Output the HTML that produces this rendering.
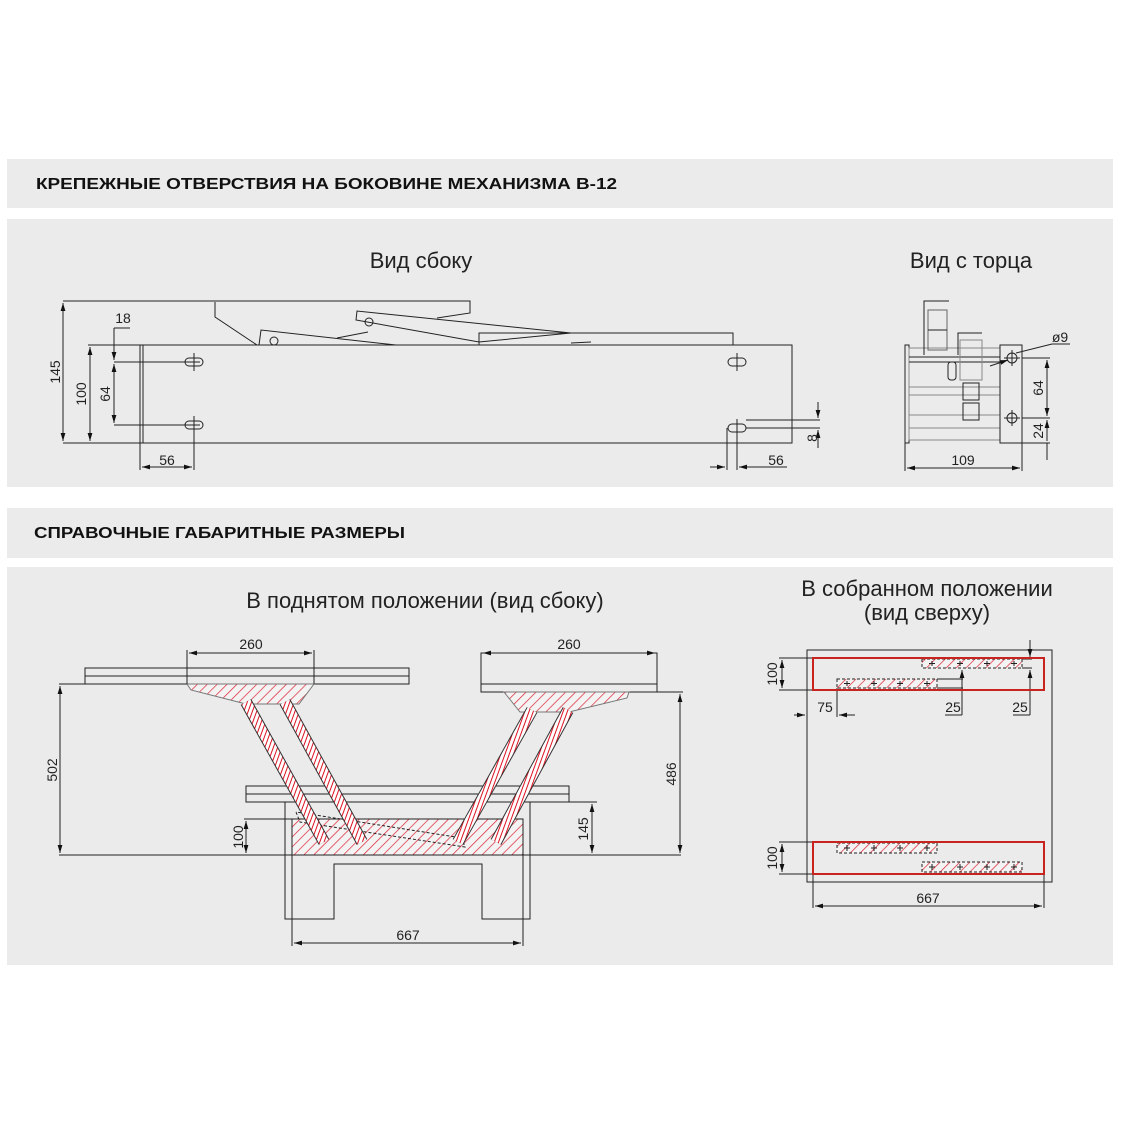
<!DOCTYPE html>
<html><head><meta charset="utf-8"><style>
html,body{margin:0;padding:0;background:#fff;}
svg{display:block}
.h{font-family:"Liberation Sans",sans-serif;font-weight:bold;font-size:16px;fill:#111}
.t{font-family:"Liberation Sans",sans-serif;font-size:22px;fill:#222;text-anchor:middle}
.d{font-family:"Liberation Sans",sans-serif;font-size:14px;fill:#222;text-anchor:middle}
</style></head><body>
<svg width="1123" height="1123" viewBox="0 0 1123 1123" xmlns="http://www.w3.org/2000/svg">
<defs>
<pattern id="hp" patternUnits="userSpaceOnUse" width="7" height="7" patternTransform="rotate(45)">
<rect width="7" height="7" fill="#f3f3f3"/><line x1="0" y1="0" x2="0" y2="7" stroke="#d23" stroke-width="1.4"/>
</pattern>
<pattern id="sp" patternUnits="userSpaceOnUse" width="4" height="4" patternTransform="rotate(20)">
<rect width="4" height="4" fill="#fff"/><line x1="0" y1="0" x2="0" y2="4" stroke="#d12" stroke-width="2"/>
</pattern>
<marker id="a" viewBox="0 0 10 6" refX="10" refY="3" markerWidth="8" markerHeight="5" orient="auto-start-reverse"><path d="M0,0 L10,3 L0,6z" fill="#111"/></marker>
</defs>
<rect width="1123" height="1123" fill="#fff"/>
<rect x="7" y="159" width="1106" height="49" fill="#ebebeb"/>
<rect x="7" y="219" width="1106" height="268" fill="#ebebeb"/>
<rect x="7" y="508" width="1106" height="50" fill="#ebebeb"/>
<rect x="7" y="567" width="1106" height="398" fill="#ebebeb"/>
<text class="h" x="36" y="189" textLength="581" lengthAdjust="spacingAndGlyphs">КРЕПЕЖНЫЕ ОТВЕРСТВИЯ НА БОКОВИНЕ МЕХАНИЗМА В-12</text>
<text class="h" x="34" y="538" textLength="371" lengthAdjust="spacingAndGlyphs">СПРАВОЧНЫЕ ГАБАРИТНЫЕ РАЗМЕРЫ</text>
<text class="t" x="421" y="268">Вид сбоку</text>
<text class="t" x="971" y="268">Вид с торца</text>
<text class="t" x="425" y="608">В поднятом положении (вид сбоку)</text>
<text class="t" x="927" y="596">В собранном положении</text>
<text class="t" x="927" y="620">(вид сверху)</text>

<g fill="none" stroke="#222" stroke-width="1">
<rect x="140" y="345" width="652" height="98"/>
<line x1="143" y1="345" x2="143" y2="443"/>
<polyline points="215,301 470,301 470,313 437,318"/>
<polyline points="215,302 215,317 257,345"/>
<polygon points="357,311 356,320 479,342 571,333"/>
<circle cx="369" cy="322" r="4"/>
<polyline points="259,345 261,330 396,345"/>
<line x1="337" y1="338" x2="368" y2="332"/>
<circle cx="274" cy="341" r="4"/>
<rect x="479" y="333" width="254" height="12"/>
<line x1="571" y1="343" x2="591" y2="342"/>
<line x1="63" y1="301" x2="215" y2="301"/>
<line x1="63" y1="443" x2="140" y2="443"/>
<line x1="63" y1="303" x2="63" y2="441" marker-start="url(#a)" marker-end="url(#a)"/>
<line x1="88" y1="345" x2="140" y2="345"/>
<line x1="90" y1="347" x2="90" y2="441" marker-start="url(#a)" marker-end="url(#a)"/>
<line x1="114" y1="362" x2="200" y2="362"/>
<line x1="114" y1="425" x2="200" y2="425"/>
<line x1="114" y1="364" x2="114" y2="423" marker-start="url(#a)" marker-end="url(#a)"/>
<line x1="114" y1="328" x2="114" y2="360" marker-end="url(#a)"/>
<line x1="114" y1="328" x2="130" y2="328"/>
<rect x="185" y="358" width="18" height="8" rx="4"/><line x1="194" y1="353" x2="194" y2="371"/>
<rect x="185" y="421" width="18" height="8" rx="4"/><line x1="194" y1="416" x2="194" y2="470"/>
<rect x="728" y="358" width="18" height="8" rx="4"/><line x1="737" y1="353" x2="737" y2="371"/>
<rect x="728" y="424" width="18" height="8" rx="4"/><line x1="737" y1="419" x2="737" y2="470"/>
<line x1="727" y1="428" x2="727" y2="470"/>
<line x1="140" y1="443" x2="140" y2="470"/>
<line x1="142" y1="467" x2="192" y2="467" marker-start="url(#a)" marker-end="url(#a)"/>
<line x1="710" y1="467" x2="725" y2="467" marker-end="url(#a)"/>
<line x1="787" y1="467" x2="739" y2="467" marker-end="url(#a)"/>
<line x1="746" y1="420" x2="820" y2="420"/>
<line x1="746" y1="428" x2="820" y2="428"/>
<line x1="818" y1="402" x2="818" y2="418" marker-end="url(#a)"/>
<line x1="818" y1="448" x2="818" y2="430" marker-end="url(#a)"/>
<rect x="905" y="345" width="4" height="98"/>
<rect x="909" y="348" width="91" height="92" stroke="#888"/>
<line x1="909" y1="357" x2="1000" y2="357"/><line x1="909" y1="362" x2="1000" y2="362"/>
<line x1="909" y1="387" x2="1000" y2="387" stroke="#888"/><line x1="909" y1="395" x2="1000" y2="395" stroke="#888"/>
<line x1="909" y1="415" x2="1000" y2="415" stroke="#888"/><line x1="909" y1="428" x2="1000" y2="428" stroke="#888"/>
<polyline points="924,355 924,301 949,301"/>
<rect x="928" y="310" width="19" height="40" stroke="#666"/><line x1="928" y1="330" x2="947" y2="330"/>
<polyline points="958,355 958,333 982,333"/>
<rect x="960" y="340" width="22" height="40" stroke="#888"/>
<rect x="963" y="383" width="16" height="17"/><rect x="963" y="403" width="16" height="17"/>
<rect x="948" y="362" width="8" height="18" rx="3"/>
<rect x="1000" y="345" width="22" height="98"/>
<circle cx="1012" cy="358" r="5"/><line x1="1004" y1="358" x2="1020" y2="358"/><line x1="1012" y1="350" x2="1012" y2="366"/>
<circle cx="1012" cy="418" r="5"/><line x1="1004" y1="418" x2="1020" y2="418"/><line x1="1012" y1="410" x2="1012" y2="426"/>
<line x1="1022" y1="358" x2="1050" y2="358"/><line x1="1022" y1="418" x2="1050" y2="418"/><line x1="1022" y1="443" x2="1050" y2="443"/>
<line x1="1047" y1="360" x2="1047" y2="416" marker-start="url(#a)" marker-end="url(#a)"/>
<line x1="1047" y1="420" x2="1047" y2="441" marker-start="url(#a)"/>
<line x1="1047" y1="443" x2="1047" y2="460"/>
<line x1="990" y1="366" x2="1008" y2="360" marker-end="url(#a)"/>
<line x1="1016" y1="353" x2="1052" y2="344"/><line x1="1052" y1="344" x2="1070" y2="344"/>
<line x1="905" y1="443" x2="905" y2="471"/><line x1="1022" y1="443" x2="1022" y2="471"/>
<line x1="907" y1="468" x2="1020" y2="468" marker-start="url(#a)" marker-end="url(#a)"/>

<rect x="85" y="668" width="324" height="16"/><line x1="85" y1="676" x2="409" y2="676"/>
<polygon points="187,684 314,684 299,704 246,704 191,690" fill="url(#hp)" stroke="#777"/>
<line x1="187" y1="684" x2="187" y2="650"/><line x1="314" y1="684" x2="314" y2="650"/>
<line x1="189" y1="653" x2="312" y2="653" marker-start="url(#a)" marker-end="url(#a)"/>
<rect x="481" y="653" width="176" height="39"/><line x1="481" y1="684" x2="657" y2="684"/>
<line x1="483" y1="653" x2="655" y2="653" marker-start="url(#a)" marker-end="url(#a)"/>
<polygon points="504,692 629,692 627,698 569,712 520,712" fill="url(#hp)" stroke="#777"/>
<line x1="59" y1="684" x2="187" y2="684"/>
<line x1="60" y1="686" x2="60" y2="853" marker-start="url(#a)" marker-end="url(#a)"/>
<line x1="59" y1="855" x2="681" y2="855"/>
<line x1="657" y1="692" x2="683" y2="692"/>
<line x1="680" y1="694" x2="680" y2="853" marker-start="url(#a)" marker-end="url(#a)"/>
<rect x="246" y="786" width="323" height="16"/><line x1="246" y1="794" x2="569" y2="794"/>
<polyline points="285,802 285,919 334,919 334,864 482,864 482,919 530,919 530,802"/>
<rect x="292" y="819" width="231" height="36" fill="url(#hp)" stroke="#222"/>
<polyline points="296,812 300,822 465,847 462,838 296,812" stroke-dasharray="3 2"/>
<line x1="530" y1="802" x2="597" y2="802"/>
<line x1="592" y1="804" x2="592" y2="853" marker-start="url(#a)" marker-end="url(#a)"/>
<line x1="244" y1="819" x2="292" y2="819"/>
<line x1="246" y1="821" x2="246" y2="853" marker-start="url(#a)" marker-end="url(#a)"/>
<line x1="292" y1="855" x2="292" y2="946"/><line x1="523" y1="855" x2="523" y2="946"/>
<line x1="294" y1="943" x2="521" y2="943" marker-start="url(#a)" marker-end="url(#a)"/>
<g stroke-linecap="butt">
<line x1="246" y1="702" x2="324" y2="842" stroke="#333" stroke-width="12"/>
<line x1="246" y1="702" x2="324" y2="842" stroke="url(#sp)" stroke-width="10"/>
<line x1="285" y1="702" x2="362" y2="842" stroke="#333" stroke-width="12"/>
<line x1="285" y1="702" x2="362" y2="842" stroke="url(#sp)" stroke-width="10"/>
<line x1="532" y1="710" x2="458" y2="842" stroke="#333" stroke-width="12"/>
<line x1="532" y1="710" x2="458" y2="842" stroke="url(#sp)" stroke-width="10"/>
<line x1="568" y1="710" x2="496" y2="842" stroke="#333" stroke-width="12"/>
<line x1="568" y1="710" x2="496" y2="842" stroke="url(#sp)" stroke-width="10"/>
</g>

<rect x="807" y="650" width="245" height="232"/>
<rect x="922" y="659" width="100" height="9" fill="url(#hp)" stroke-dasharray="3 2"/>
<rect x="837" y="679" width="100" height="9" fill="url(#hp)" stroke-dasharray="3 2"/>
<rect x="837" y="843" width="100" height="10" fill="url(#hp)" stroke-dasharray="3 2"/>
<rect x="922" y="862" width="100" height="10" fill="url(#hp)" stroke-dasharray="3 2"/>
<line x1="1022" y1="659" x2="1032" y2="659"/><line x1="1022" y1="668" x2="1032" y2="668"/>
<line x1="937" y1="679" x2="963" y2="679"/><line x1="937" y1="688" x2="963" y2="688"/>
<line x1="779" y1="658" x2="813" y2="658"/><line x1="779" y1="690" x2="813" y2="690"/>
<line x1="782" y1="660" x2="782" y2="688" marker-start="url(#a)" marker-end="url(#a)"/>
<line x1="779" y1="842" x2="813" y2="842"/><line x1="779" y1="874" x2="813" y2="874"/>
<line x1="782" y1="844" x2="782" y2="872" marker-start="url(#a)" marker-end="url(#a)"/>
<line x1="837" y1="688" x2="837" y2="717"/>
<line x1="794" y1="715" x2="805" y2="715" marker-end="url(#a)"/>
<line x1="855" y1="715" x2="839" y2="715" marker-end="url(#a)"/>
<line x1="962" y1="670" x2="962" y2="715" marker-start="url(#a)"/><line x1="945" y1="715" x2="962" y2="715"/>
<line x1="1030" y1="640" x2="1030" y2="657" marker-end="url(#a)"/>
<line x1="1030" y1="670" x2="1030" y2="715" marker-start="url(#a)"/><line x1="1013" y1="715" x2="1030" y2="715"/>
<line x1="813" y1="874" x2="813" y2="908"/><line x1="1044" y1="874" x2="1044" y2="908"/>
<line x1="815" y1="906" x2="1042" y2="906" marker-start="url(#a)" marker-end="url(#a)"/>
</g>
<g fill="none" stroke="#c8231c" stroke-width="2">
<rect x="813" y="658" width="231" height="32"/>
<rect x="813" y="842" width="231" height="32"/>
</g>
<g stroke="#222" stroke-width="1">
<path d="M929,663.5h6M932,661v5M957,663.5h6M960,661v5M984,663.5h6M987,661v5M1011,663.5h6M1014,661v5"/>
<path d="M844,683.5h6M847,681v5M871,683.5h6M874,681v5M897,683.5h6M900,681v5M924,683.5h6M927,681v5"/>
<path d="M844,848h6M847,845v6M871,848h6M874,845v6M897,848h6M900,845v6M924,848h6M927,845v6"/>
<path d="M929,867h6M932,864v6M957,867h6M960,864v6M984,867h6M987,864v6M1011,867h6M1014,864v6"/>
</g>

<text class="d" transform="translate(60,372) rotate(-90)">145</text>
<text class="d" transform="translate(86,394) rotate(-90)">100</text>
<text class="d" transform="translate(110,394) rotate(-90)">64</text>
<text class="d" x="123" y="323">18</text>
<text class="d" x="167" y="465">56</text>
<text class="d" x="776" y="465">56</text>
<text class="d" transform="translate(817,438) rotate(-90)">8</text>
<text class="d" x="963" y="465">109</text>
<text class="d" x="1060" y="342">ø9</text>
<text class="d" transform="translate(1043,388) rotate(-90)">64</text>
<text class="d" transform="translate(1043,431) rotate(-90)">24</text>
<text class="d" x="251" y="649">260</text>
<text class="d" x="569" y="649">260</text>
<text class="d" transform="translate(57,770) rotate(-90)">502</text>
<text class="d" transform="translate(676,774) rotate(-90)">486</text>
<text class="d" transform="translate(243,837) rotate(-90)">100</text>
<text class="d" transform="translate(588,829) rotate(-90)">145</text>
<text class="d" x="408" y="940">667</text>
<text class="d" transform="translate(777,674) rotate(-90)">100</text>
<text class="d" transform="translate(777,858) rotate(-90)">100</text>
<text class="d" x="825" y="712">75</text>
<text class="d" x="953" y="712">25</text>
<text class="d" x="1020" y="712">25</text>
<text class="d" x="928" y="903">667</text>
</svg>
</body></html>
